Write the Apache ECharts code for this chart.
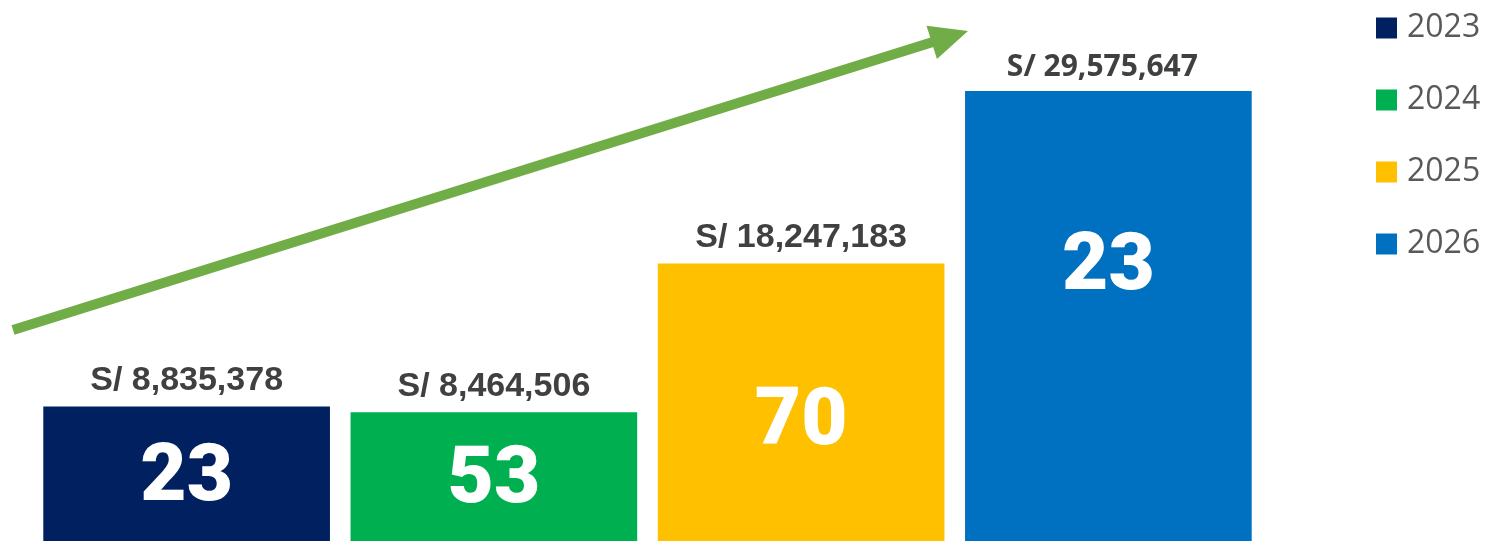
<!DOCTYPE html>
<html lang="es">
<head>
<meta charset="utf-8" />
<title>montos por año</title>
<style>
  html, body { margin: 0; padding: 0; background: #fff; }
  #chart { width: 1488px; height: 541px; }
</style>
</head>
<body>
<div id="chart"></div>
<script src="https://cdn.jsdelivr.net/npm/echarts@6/dist/echarts.min.js"></script>
<script>
// datos
var years = ['2023', '2024', '2025', '2026'];
var amounts = [8835378, 8464506, 18247183, 29575647];
var counts = [23, 53, 70, 23];

var colors = ['#002060', '#00B050', '#FFC000', '#0070C0'];
// posición vertical del número dentro de cada barra (px desde el tope)
var countTop = [73, 70, 161, 178];

function money(v) {
  return 'S/ ' + v.toLocaleString('en-US');
}

var chart = echarts.init(document.getElementById('chart'));

var series = years.map(function (y, i) {
  return {
    name: y,
    type: 'bar',
    stack: 'total',
    barCategoryGap: '6.7%',
    itemStyle: { color: colors[i] },
    data: years.map(function (_, j) {
      if (j !== i) return '-';
      return {
        value: amounts[j],
        label: {
          show: true,
          position: ['50%', countTop[j]],
          align: 'center',
          verticalAlign: 'middle',
          formatter: String(counts[j]),
          color: '#fff',
          fontFamily: 'Roboto',
          fontWeight: 900,
          fontSize: 80
        }
      };
    })
  };
});

// serie vacía apilada encima para poner el monto sobre cada barra
series.push({
  name: 'monto',
  type: 'bar',
  stack: 'total',
  itemStyle: { color: 'transparent' },
  label: {
    show: true,
    position: 'top',
    distance: 9,
    color: '#404040',
    fontFamily: 'Liberation Sans',
    fontWeight: 'bold',
    fontSize: 34,
    formatter: function (p) { return money(amounts[p.dataIndex]); }
  },
  data: amounts.map(function (_, j) {
    if (j === 3) {
      return { value: 0, label: { fontFamily: 'Open Sans', fontSize: 30, offset: [-6, 0] } };
    }
    return 0;
  })
});

// flecha verde de tendencia
var arrowFrom = [13, 330], arrowTo = [968, 31];
var dx = arrowTo[0] - arrowFrom[0], dy = arrowTo[1] - arrowFrom[1];
var len = Math.sqrt(dx * dx + dy * dy);
var ux = dx / len, uy = dy / len;
var headLen = 38, headHalf = 17.5;
var base = [arrowTo[0] - ux * headLen, arrowTo[1] - uy * headLen];

chart.setOption({
  animation: false,
  grid: { left: 33, right: 226, top: 8.5, bottom: 0 },
  xAxis: {
    type: 'category',
    data: years,
    show: false
  },
  yAxis: {
    type: 'value',
    min: 0,
    max: 35000000,
    show: false
  },
  legend: {
    data: years,
    orient: 'vertical',
    left: 1371,
    top: 7,
    itemWidth: 21,
    itemHeight: 21,
    itemGap: 40,
    icon: 'rect',
    selectedMode: false,
    textStyle: {
      color: '#595959',
      fontFamily: 'Open Sans',
      fontSize: 32,
      lineHeight: 32,
      padding: [0, 0, 0, 5]
    }
  },
  graphic: [
    {
      type: 'line',
      shape: { x1: arrowFrom[0], y1: arrowFrom[1], x2: base[0] + ux * 2, y2: base[1] + uy * 2 },
      style: { stroke: '#70AD47', lineWidth: 10 }
    },
    {
      type: 'polygon',
      shape: {
        points: [
          arrowTo,
          [base[0] - uy * headHalf, base[1] + ux * headHalf],
          [base[0] + uy * headHalf, base[1] - ux * headHalf]
        ]
      },
      style: { fill: '#70AD47' }
    }
  ],
  series: series
});

window.onresize = function () {
  chart.resize();
};
</script>
</body>
</html>
